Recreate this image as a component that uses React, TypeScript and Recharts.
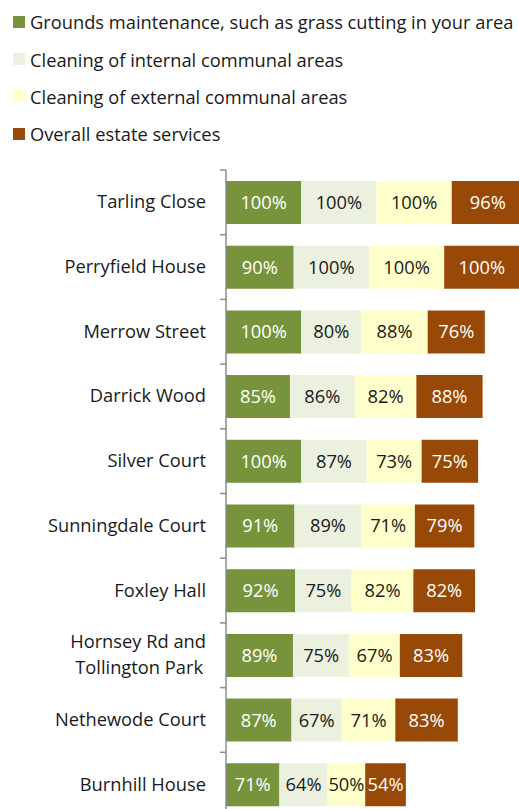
import React from 'react';
import { BarChart, Bar, XAxis, YAxis, LabelList } from 'recharts';

const estates = [
  'Tarling Close',
  'Perryfield House',
  'Merrow Street',
  'Darrick Wood',
  'Silver Court',
  'Sunningdale Court',
  'Foxley Hall',
  'Hornsey Rd and\nTollington Park',
  'Nethewode Court',
  'Burnhill House',
];

const grounds = [100, 90, 100, 85, 100, 91, 92, 89, 87, 71];
const internal = [100, 100, 80, 86, 87, 89, 75, 75, 67, 64];
const external = [100, 100, 88, 82, 73, 71, 82, 67, 71, 50];
const overall = [96, 100, 76, 88, 75, 79, 82, 83, 83, 54];

const series = [
  { key: 'grounds', name: 'Grounds maintenance, such as grass cutting in your area', color: '#77933C', text: '#ffffff' },
  { key: 'internal', name: 'Cleaning of internal communal areas', color: '#EBF1DE', text: '#1a1a1a' },
  { key: 'external', name: 'Cleaning of external communal areas', color: '#FFFFCC', text: '#1a1a1a' },
  { key: 'overall', name: 'Overall estate services', color: '#984807', text: '#ffffff' },
];

const data = estates.map((name, i) => ({
  name,
  grounds: grounds[i],
  internal: internal[i],
  external: external[i],
  overall: overall[i],
}));

const FONT = '"Open Sans", sans-serif';
const SIZE = 18.3;

// Excel puts tick marks between categories, so draw them at the band edge
function EstateTick(props: any) {
  const { x, y, payload } = props;
  const half = payload && payload.offset ? payload.offset : 32.35;
  const lines = String(payload.value).split('\n');
  const axisX = x + 20;
  return (
    <g>
      <line x1={axisX - 6} x2={axisX} y1={y - half} y2={y - half} stroke="#8c8c8c" strokeWidth={1.5} />
      <text x={x} y={y} textAnchor="end" fontFamily={FONT} fontSize={SIZE} fill="#1a1a1a">
        {lines.map((l, i) => (
          <tspan key={i} x={i === 0 ? x : x - 3} dy={i === 0 ? (lines.length - 1) * -13 + 6 : 26}>
            {l}
          </tspan>
        ))}
      </text>
    </g>
  );
}

export default function App() {
  return (
    <div
      style={{
        position: 'fixed',
        left: 0,
        top: 0,
        width: 519,
        height: 809,
        overflow: 'hidden',
        background: '#fff',
        fontFamily: FONT,
      }}
    >
      <div style={{ position: 'absolute', left: 13, top: 3 }}>
        {series.map((s) => (
          <div key={s.key} style={{ display: 'flex', alignItems: 'center', height: 37.4 }}>
            <span style={{ width: 12, height: 12, background: s.color, display: 'inline-block', marginRight: 5 }} />
            <span style={{ fontSize: SIZE, color: '#1a1a1a', whiteSpace: 'nowrap' }}>{s.name}</span>
          </div>
        ))}
      </div>
      <BarChart
        width={527}
        height={830}
        data={data}
        layout="vertical"
        margin={{ top: 170, right: 0, bottom: 13, left: 0 }}
      >
        <XAxis type="number" domain={[0, 400]} hide />
        <YAxis
          type="category"
          dataKey="name"
          width={226}
          tickSize={0}
          tickMargin={20}
          tick={<EstateTick />}
          axisLine={{ stroke: '#8c8c8c', strokeWidth: 1.5 }}
          interval={0}
        />
        {series.map((s) => (
          <Bar key={s.key} dataKey={s.key} name={s.name} stackId="a" fill={s.color} barSize={43} isAnimationActive={false}>
            <LabelList
              dataKey={s.key}
              position="center"
              formatter={(v: any) => `${v}%`}
              fill={s.text}
              fontFamily={FONT}
              fontSize={SIZE}
            />
          </Bar>
        ))}
      </BarChart>
    </div>
  );
}
